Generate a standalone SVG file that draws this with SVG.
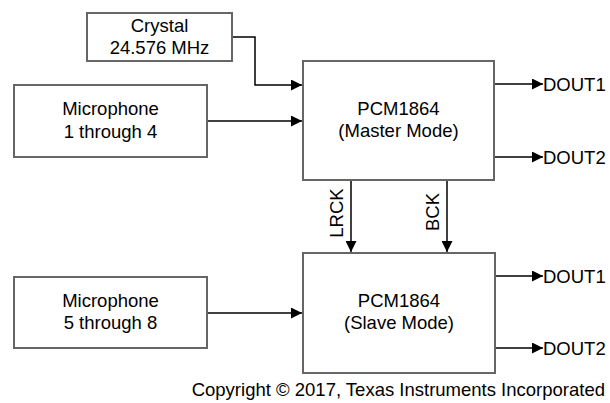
<svg xmlns="http://www.w3.org/2000/svg" width="610" height="403" viewBox="0 0 610 403">
<defs>
<style>
.box{fill:#fff;stroke:#666;stroke-width:2}
.ln{fill:none;stroke:#000;stroke-width:1.5}
.t{font-family:"Liberation Sans",Arial,sans-serif;font-size:18.5px;fill:#000}
.c{text-anchor:middle}
</style>
<marker id="ah" markerWidth="11" markerHeight="11" refX="11" refY="5.5" orient="auto" markerUnits="userSpaceOnUse">
<path d="M0,0 L11,5.5 L0,11 Z" fill="#000"/>
</marker>
</defs>
<rect width="610" height="403" fill="#fff"/>
<g id="connectors">
<polyline class="ln" points="232,37 255,37 255,85 302,85" marker-end="url(#ah)"/>
<line class="ln" x1="207" y1="121" x2="302" y2="121" marker-end="url(#ah)"/>
<line class="ln" x1="494" y1="84" x2="543" y2="84" marker-end="url(#ah)"/>
<line class="ln" x1="494" y1="157" x2="543" y2="157" marker-end="url(#ah)"/>
<line class="ln" x1="351" y1="180" x2="351" y2="252" marker-end="url(#ah)"/>
<line class="ln" x1="447" y1="180" x2="447" y2="252" marker-end="url(#ah)"/>
<line class="ln" x1="207" y1="313" x2="302" y2="313" marker-end="url(#ah)"/>
<line class="ln" x1="495" y1="276" x2="543" y2="276" marker-end="url(#ah)"/>
<line class="ln" x1="495" y1="348" x2="543" y2="348" marker-end="url(#ah)"/>
<text class="t c" transform="translate(343,213) rotate(-90)">LRCK</text>
<text class="t c" transform="translate(439,212) rotate(-90)">BCK</text>
<text class="t" x="543" y="91">DOUT1</text>
<text class="t" x="543" y="164">DOUT2</text>
<text class="t" x="543" y="283">DOUT1</text>
<text class="t" x="543" y="355">DOUT2</text>
</g>
<g id="crystal">
<rect class="box" x="87" y="13" width="145" height="48"/>
<text class="t c" x="159.5" y="32">Crystal</text>
<text class="t c" x="159.5" y="54">24.576 MHz</text>
</g>
<g id="mic1">
<rect class="box" x="14" y="85" width="193" height="72"/>
<text class="t c" x="110.5" y="115">Microphone</text>
<text class="t c" x="110.5" y="138">1 through 4</text>
</g>
<g id="master">
<rect class="box" x="303" y="61" width="191" height="119"/>
<text class="t c" x="398.5" y="115">PCM1864</text>
<text class="t c" x="398.5" y="137">(Master Mode)</text>
</g>
<g id="mic2">
<rect class="box" x="14" y="277" width="193" height="71"/>
<text class="t c" x="110.5" y="307">Microphone</text>
<text class="t c" x="110.5" y="329">5 through 8</text>
</g>
<g id="slave">
<rect class="box" x="303" y="253" width="192" height="120"/>
<text class="t c" x="399" y="307">PCM1864</text>
<text class="t c" x="399" y="329">(Slave Mode)</text>
</g>
<text class="t" x="605" y="396" text-anchor="end">Copyright © 2017, Texas Instruments Incorporated</text>
</svg>
